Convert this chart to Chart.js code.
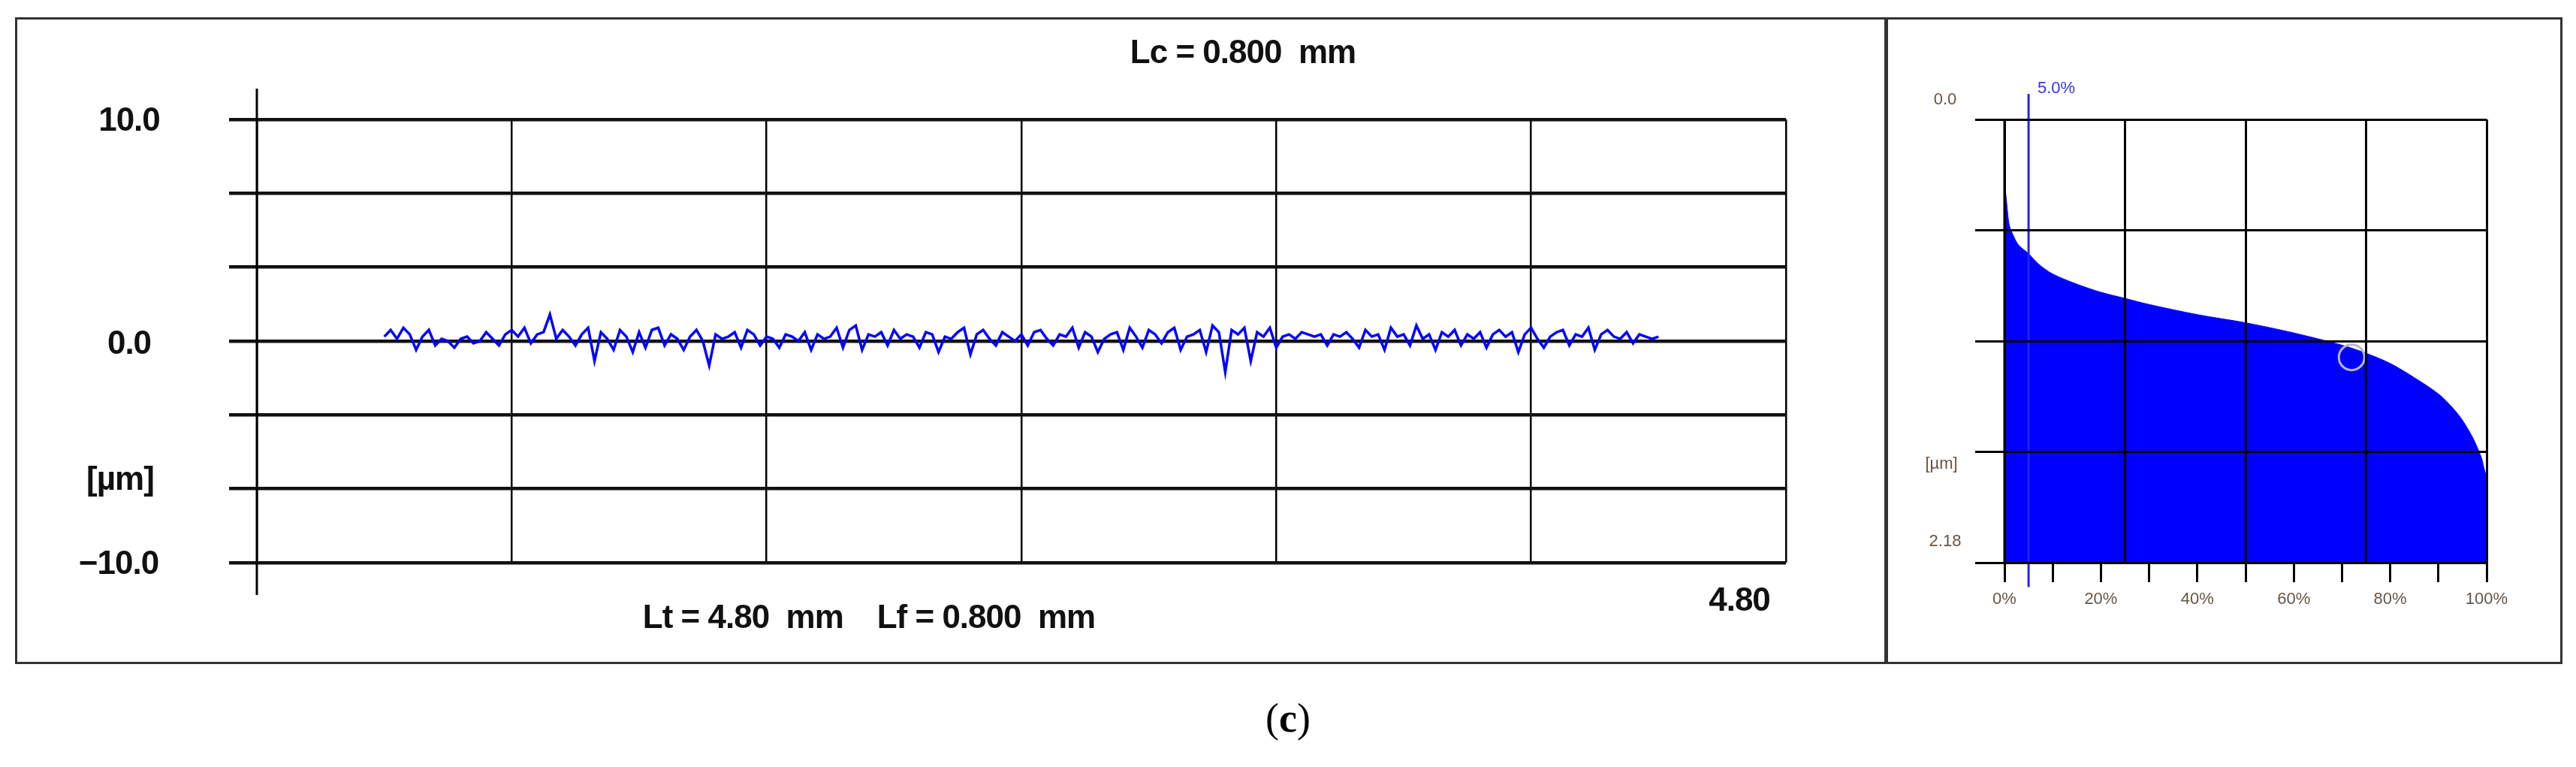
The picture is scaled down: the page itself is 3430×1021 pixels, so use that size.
<!DOCTYPE html>
<html>
<head>
<meta charset="utf-8">
<script src="https://cdn.jsdelivr.net/npm/chart.js@4"></script>
<style>
  html, body { margin: 0; padding: 0; background: #fff; }
  body { width: 3430px; height: 1021px; position: relative; overflow: hidden; font-family: "Liberation Sans", Arial, sans-serif; }
  .box { position: absolute; border: 3px solid #333; box-sizing: border-box; }
  canvas { position: absolute; }
  .t { position: absolute; white-space: nowrap; transform: translate(-50%, -50%); }
  .big { font-weight: bold; font-size: 44px; color: #111; letter-spacing: -1px; }
  .small { font-size: 22px; color: #665544; }
</style>
</head>
<body>
<div class="box" style="left:20px;top:23px;width:2492px;height:861px"></div>
<div class="box" style="left:2511px;top:23px;width:901px;height:861px"></div>
<canvas id="profile" style="left:21px;top:24px"></canvas>
<canvas id="bearing" style="left:2513px;top:24px"></canvas>

<div class="t big" style="left:1655px;top:69px">Lc = 0.800&nbsp; mm</div>
<div class="t big" style="left:172px;top:159px">10.0</div>
<div class="t big" style="left:172px;top:456px">0.0</div>
<div class="t big" style="left:160px;top:637px">[µm]</div>
<div class="t big" style="left:158px;top:749px">−10.0</div>
<div class="t big" style="left:1157px;top:821px">Lt = 4.80&nbsp; mm&nbsp;&nbsp;&nbsp; Lf = 0.800&nbsp; mm</div>
<div class="t big" style="left:2316px;top:798px">4.80</div>

<div class="t small" style="left:2590px;top:132px">0.0</div>
<div class="t small" style="left:2585px;top:617px">[µm]</div>
<div class="t small" style="left:2590px;top:720px">2.18</div>
<div class="t small" style="left:2738px;top:117px;color:#3333ee">5.0%</div>

<div class="t" style="left:1715px;top:956px;font-family:'Liberation Serif',serif;font-size:54px;color:#000">(<b>c</b>)</div>

<script>
// roughness profile, micrometres, one sample every 0.02 mm from 0.40 mm to 4.40 mm
const profileStart = 0.40;
const profileStep = 0.02;
const profileValues = [
  0.2, 0.5, 0.1, 0.6, 0.3, -0.4, 0.2, 0.5, -0.2, 0.1, 0.0, -0.3, 0.1, 0.2, -0.1, 0.0, 0.4, 0.1, -0.2, 0.3,
  0.5, 0.2, 0.6, -0.1, 0.3, 0.4, 1.2, 0.1, 0.5, 0.2, -0.2, 0.3, 0.6, -0.9, 0.4, 0.1, -0.4, 0.5, 0.2, -0.5,
  0.4, -0.3, 0.5, 0.6, -0.2, 0.3, 0.1, -0.4, 0.2, 0.5, 0.0, -1.1, 0.3, 0.1, 0.2, 0.4, -0.3, 0.5, 0.3, -0.2,
  0.2, 0.1, -0.3, 0.3, 0.2, 0.0, 0.4, -0.4, 0.3, 0.1, 0.2, 0.6, -0.3, 0.5, 0.7, -0.4, 0.3, 0.2, 0.4, -0.2,
  0.5, 0.1, 0.3, 0.2, -0.3, 0.4, 0.3, -0.5, 0.2, 0.1, 0.4, 0.6, -0.6, 0.3, 0.5, 0.1, -0.2, 0.4, 0.2, 0.0,
  0.3, -0.2, 0.4, 0.5, 0.1, -0.2, 0.3, 0.2, 0.6, -0.3, 0.4, 0.2, -0.5, 0.1, 0.3, 0.4, -0.4, 0.6, 0.2, -0.3,
  0.5, 0.3, -0.1, 0.4, 0.6, -0.4, 0.2, 0.3, 0.5, -0.5, 0.7, 0.4, -1.4, 0.5, 0.3, 0.6, -0.9, 0.4, 0.2, 0.6,
  -0.3, 0.2, 0.3, 0.1, 0.4, 0.3, 0.2, 0.3, -0.2, 0.3, 0.2, 0.4, 0.1, -0.3, 0.5, 0.2, 0.3, -0.4, 0.6, 0.2,
  0.3, -0.2, 0.7, 0.1, 0.3, -0.4, 0.4, 0.2, 0.5, -0.2, 0.3, 0.1, 0.4, -0.3, 0.3, 0.5, 0.2, 0.4, -0.5, 0.3,
  0.6, 0.1, -0.3, 0.2, 0.4, 0.5, -0.2, 0.3, 0.2, 0.6, -0.4, 0.3, 0.5, 0.2, 0.1, 0.4, -0.1, 0.3, 0.2, 0.1,
  0.2
];
const profileXMin = 0, profileXMax = 4.8;
const profileXGrid = [0, 0.8, 1.6, 2.4, 3.2, 4.0, 4.8];
const profileYGrid = [-10, -6.667, -3.333, 0, 3.333, 6.667, 10];

// material ratio (Abbott-Firestone) curve: percent vs depth in micrometres
const ratioPercent = [0, 0.5, 1, 2, 3, 5, 7, 10, 15, 20, 25, 30, 40, 50, 60, 70, 75, 80, 85, 90, 93, 95, 97, 98, 99, 99.5, 100];
const ratioDepth   = [0.30, 0.42, 0.52, 0.58, 0.62, 0.66, 0.71, 0.76, 0.81, 0.85, 0.88, 0.91, 0.96, 1.00, 1.05, 1.11, 1.15, 1.20, 1.27, 1.35, 1.42, 1.48, 1.56, 1.61, 1.67, 1.72, 1.76];
const ratioDepthMax = 2.18;
const ratioYGrid = [0, 0.545, 1.09, 1.635, 2.18];
const ratioXGridLines = [0, 25, 50, 75, 100];
const ratioXTicks = [0, 10, 20, 25, 30, 40, 50, 60, 70, 75, 80, 90, 100];
const ratioXTickMarks = [0, 10, 20, 30, 40, 50, 60, 70, 80, 90, 100];
const ratioXLabels = { 0: '0%', 20: '20%', 40: '40%', 60: '60%', 80: '80%', 100: '100%' };
const markerPercent = 5.0;
const markerDepthSpan = [-0.126, 2.30];
const circlePoint = { x: 72, y: 1.17 };

function setTicks(values) {
  return (scale) => { scale.ticks = values.map((v) => ({ value: v })); };
}

// vertical axis line that overshoots the plot area, as in the original software
const axisOvershoot = {
  id: 'axisOvershoot',
  afterDraw(chart, _args, opts) {
    const { ctx, chartArea } = chart;
    ctx.save();
    ctx.strokeStyle = '#000';
    ctx.lineWidth = opts.width || 3;
    ctx.beginPath();
    ctx.moveTo(chartArea.left, chartArea.top - opts.above);
    ctx.lineTo(chartArea.left, chartArea.bottom + opts.below);
    ctx.stroke();
    ctx.restore();
  }
};

const profilePoints = profileValues.map((v, i) => ({ x: profileStart + i * profileStep, y: v }));

const profileCanvas = document.getElementById('profile');
profileCanvas.width = 2489; profileCanvas.height = 858;
profileCanvas.style.width = '2489px'; profileCanvas.style.height = '858px';

new Chart(profileCanvas, {
  type: 'line',
  data: {
    datasets: [{
      data: profilePoints,
      borderColor: '#0000ff',
      borderWidth: 3.5,
      pointRadius: 0,
      tension: 0
    }]
  },
  options: {
    responsive: false,
    animation: false,
    devicePixelRatio: 1,
    layout: { padding: { left: 0, right: 132, top: 135, bottom: 0 } },
    plugins: { legend: { display: false }, tooltip: { enabled: false }, axisOvershoot: { above: 41, below: 43, width: 3 } },
    scales: {
      x: {
        type: 'linear', min: profileXMin, max: profileXMax,
        afterBuildTicks: setTicks(profileXGrid),
        afterFit: (s) => { s.height = 133; },
        ticks: { display: false },
        grid: { color: '#000', lineWidth: 2.5, drawTicks: false },
        border: { display: false }
      },
      y: {
        type: 'linear', min: -10, max: 10,
        afterBuildTicks: setTicks(profileYGrid),
        afterFit: (s) => { s.width = 321; },
        ticks: { display: false },
        grid: { color: '#111', lineWidth: 4.5, drawTicks: true, tickLength: 37 },
        border: { display: false }
      }
    }
  },
  plugins: [axisOvershoot]
});

const bearingCanvas = document.getElementById('bearing');
bearingCanvas.width = 897; bearingCanvas.height = 858;
bearingCanvas.style.width = '897px'; bearingCanvas.style.height = '858px';

const isGridLine = (v) => ratioXGridLines.includes(v);
const isTickMark = (v) => ratioXTickMarks.includes(v);

new Chart(bearingCanvas, {
  type: 'line',
  data: {
    datasets: [
      {
        data: ratioPercent.map((p, i) => ({ x: p, y: ratioDepth[i] })),
        borderColor: '#0000ff',
        borderWidth: 1,
        backgroundColor: '#0000ff',
        fill: 'start',
        pointRadius: 0,
        tension: 0.3,
        order: 3
      },
      {
        data: markerDepthSpan.map((d) => ({ x: markerPercent, y: d })),
        borderColor: '#2222ff',
        borderWidth: 3,
        pointRadius: 0,
        clip: false,
        order: 1
      },
      {
        type: 'scatter',
        data: [circlePoint],
        pointRadius: 17,
        pointBorderWidth: 3,
        pointBorderColor: '#b8b8c8',
        pointBackgroundColor: 'rgba(0,0,0,0)',
        order: 0
      }
    ]
  },
  options: {
    responsive: false,
    animation: false,
    devicePixelRatio: 1,
    layout: { padding: { left: 0, right: 99, top: 135, bottom: 0 } },
    plugins: { legend: { display: false }, tooltip: { enabled: false }, axisOvershoot: { above: 0, below: 0, width: 3 } },
    scales: {
      x: {
        type: 'linear', min: 0, max: 100,
        afterBuildTicks: setTicks(ratioXTicks),
        afterFit: (s) => { s.height = 133; },
        ticks: {
          autoSkip: false, maxRotation: 0, padding: 10,
          color: '#665544', font: { size: 22, family: 'Liberation Sans' },
          callback: (v) => ratioXLabels[v] || ''
        },
        grid: {
          z: 1, lineWidth: 3, tickLength: 26,
          color: (c) => (isGridLine(c.tick.value) ? '#000' : 'rgba(0,0,0,0)'),
          tickColor: (c) => (isTickMark(c.tick.value) ? '#000' : 'rgba(0,0,0,0)')
        },
        border: { display: false }
      },
      y: {
        type: 'linear', min: 0, max: ratioDepthMax, reverse: true,
        afterBuildTicks: setTicks(ratioYGrid),
        afterFit: (s) => { s.width = 156; },
        ticks: { display: false },
        grid: { color: '#000', lineWidth: 3, drawTicks: true, tickLength: 39, z: 1 },
        border: { display: false }
      }
    }
  },
  plugins: [axisOvershoot]
});
</script>
</body>
</html>
